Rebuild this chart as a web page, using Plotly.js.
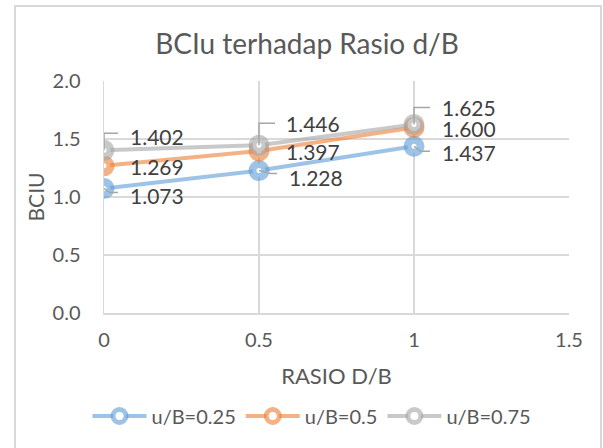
<!DOCTYPE html>
<html><head><meta charset="utf-8">
<script src="https://cdn.plot.ly/plotly-3.0.1.min.js"></script>
<style>html,body{margin:0;padding:0;background:#fff}#chart{width:603px;height:448px}</style>
</head><body><div id="chart"></div>
<script>
// ---- data ----
const rasio = [0, 0.5, 1];
const seriesNames = ['u/B=0.25', 'u/B=0.5', 'u/B=0.75'];
const bci025 = [1.073, 1.228, 1.437];
const bci05 = [1.269, 1.397, 1.600];
const bci075 = [1.402, 1.446, 1.625];
const xTickVals = [0, 0.5, 1, 1.5];
const xTickText = ['0', '0.5', '1', '1.5'];
const yTickVals = [0, 0.5, 1, 1.5, 2];
const yTickText = ['0.0', '0.5', '1.0', '1.5', '2.0'];

// ---- styles ----
const colors = ['rgba(91,155,213,0.6)', 'rgba(237,125,49,0.6)', 'rgba(165,165,165,0.6)'];
const allSeries = [bci025, bci05, bci075];
const FONT = 'Lato, "Open Sans", sans-serif';

// label placement (pixel offsets: dx to left edge, dy up) and leader paths (pixels, y up)
const labelPos = [
  [[24, -6.5], [28, -6.5], [26, -5.7]],
  [[24, -1], [25, -1], [26, -1.5]],
  [[24, 14], [25, 22], [26, 17.5]]
];
const leaders = [
  ['M0,0 L6,-4 H14', 'M0,0 L12,-3 H18', 'M0,0 L7,-5 H16'],
  [null, null, null],
  ['M0,0 V17 H14', 'M0,0 V22 H16', 'M0,0 V17 H16']
];

const traces = allSeries.map((ys, i) => ({
  type: 'scatter', mode: 'lines+markers', name: seriesNames[i],
  x: rasio, y: ys,
  line: {color: colors[i], width: 4},
  marker: {symbol: 'circle', size: 13, color: '#ffffff', line: {color: colors[i], width: 8}}
}));

const annotations = [];
const shapes = [];
allSeries.forEach((ys, i) => {
  ys.forEach((v, j) => {
    annotations.push({
      x: rasio[j], y: v, xref: 'x', yref: 'y', text: v.toFixed(3),
      showarrow: false, xanchor: 'left', yanchor: 'middle',
      xshift: labelPos[i][j][0], yshift: labelPos[i][j][1],
      font: {family: FONT, size: 21, color: '#404040'}
    });
    if (leaders[i][j]) {
      shapes.push({
        type: 'path', xref: 'x', yref: 'y', xsizemode: 'pixel', ysizemode: 'pixel',
        xanchor: rasio[j], yanchor: v, path: leaders[i][j],
        line: {color: '#a6a6a6', width: 1.5}, layer: 'above'
      });
    }
  });
});

// outer chart border
shapes.push({
  type: 'rect', xref: 'paper', yref: 'paper',
  x0: -0.1914, x1: 1.0688, y0: -0.7, y1: 1.3233,
  line: {color: '#d9d9d9', width: 2}, layer: 'below'
});

const layout = {
  width: 603, height: 448,
  margin: {l: 104, r: 34, t: 81, b: 135},
  paper_bgcolor: '#ffffff', plot_bgcolor: '#ffffff',
  font: {family: FONT, color: '#595959'},
  title: {text: 'BCIu terhadap Rasio d/B', font: {family: FONT, size: 28, color: '#595959'},
          x: 307 / 603, xanchor: 'center', xref: 'container', y: 1 - 44 / 448, yanchor: 'middle', yref: 'container'},
  xaxis: {
    range: [0, 1.5], tickvals: xTickVals, ticktext: xTickText,
    showgrid: true, gridcolor: '#d9d9d9', gridwidth: 1.5, zeroline: false,
    showline: true, linecolor: '#d9d9d9', linewidth: 1.5,
    ticks: '', ticklabelstandoff: 8,
    tickfont: {family: FONT, size: 20, color: '#595959'},
    title: {text: 'RASIO D/B', font: {family: FONT, size: 22, color: '#595959'}, standoff: 19},
    fixedrange: true
  },
  yaxis: {
    range: [0, 2], tickvals: yTickVals, ticktext: yTickText,
    showgrid: true, gridcolor: '#d9d9d9', gridwidth: 1.5, zeroline: false,
    showline: true, linecolor: '#d9d9d9', linewidth: 1.5,
    ticks: '', ticklabelstandoff: 18,
    tickfont: {family: FONT, size: 20, color: '#595959'},
    title: {text: 'BCIU', font: {family: FONT, size: 21, color: '#595959'}, standoff: 2},
    fixedrange: true
  },
  showlegend: true,
  legend: {
    orientation: 'h', xref: 'container', yref: 'container',
    x: 312 / 603, xanchor: 'center', y: 1 - 416 / 448, yanchor: 'middle',
    font: {family: FONT, size: 20, color: '#595959'},
    itemwidth: 54, tracegroupgap: 0
  },
  annotations: annotations,
  shapes: shapes
};

Plotly.newPlot('chart', traces, layout, {displayModeBar: false, staticPlot: true});
</script>
</body></html>
